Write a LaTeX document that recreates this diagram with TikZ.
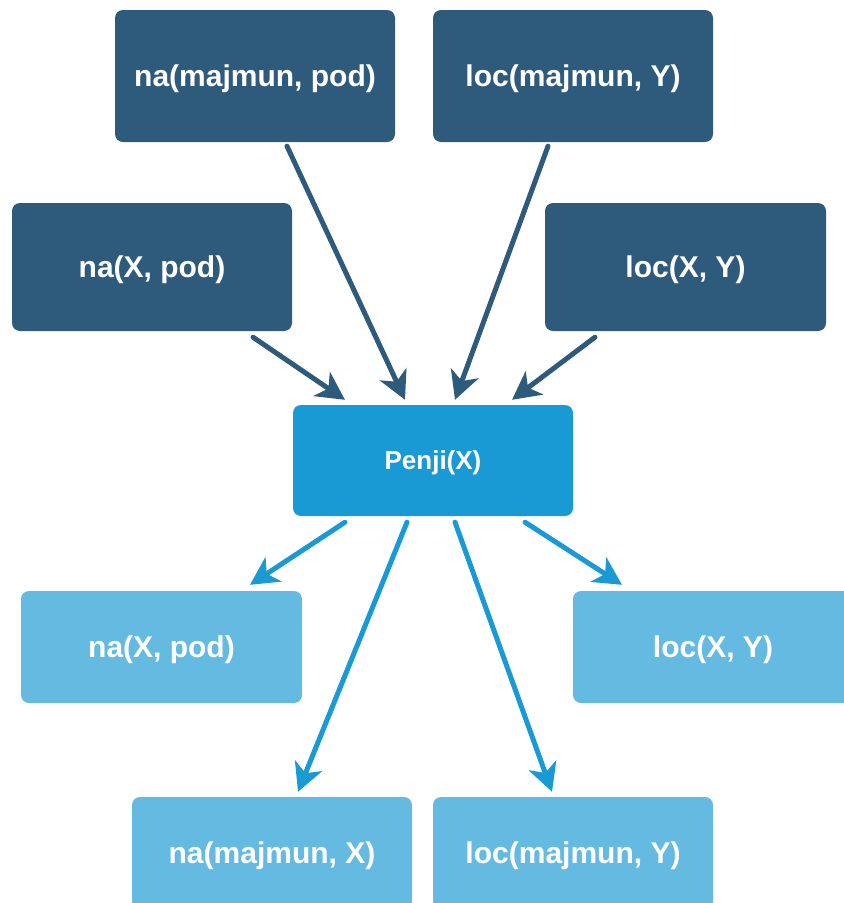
\documentclass[tikz,border=0pt]{standalone}
\usepackage{fontspec}
\setmainfont{Liberation Sans}
\usetikzlibrary{arrows.meta}
\definecolor{tamna}{HTML}{2E5A7C}
\definecolor{srednja}{HTML}{1A9AD4}
\definecolor{svijetla}{HTML}{64BAE1}
\begin{document}
\begin{tikzpicture}[x=1pt,y=-1pt,line cap=round,line join=round,
  kutija/.style={rectangle,rounded corners=8pt,inner sep=0pt,text=white,text depth=0pt,
    font=\bfseries\fontsize{30}{34}\selectfont,minimum width=280pt},
  ulaz/.style={kutija,fill=tamna},
  izlaz/.style={kutija,fill=svijetla,minimum height=112pt},
  glavna/.style={kutija,fill=srednja,minimum height=111pt,
    font=\bfseries\fontsize{26}{30}\selectfont},
  tstrelica/.style={draw=tamna,line width=5pt,-{Stealth[length=28pt,width=29pt,inset=8pt]}},
  sstrelica/.style={draw=srednja,line width=5pt,-{Stealth[length=28pt,width=29pt,inset=8pt]}}]
\useasboundingbox (0,0) rectangle (844,903);
\clip (0,0) rectangle (844,903);
%ulazi
\node[ulaz,minimum height=132pt] (namp) at (255,76) {na(majmun, pod)};
\node[ulaz,minimum height=132pt] (locmy) at (573,76) {loc(majmun, Y)};
\node[ulaz,minimum height=128pt] (naxp) at (152,267) {na(X, pod)};
\node[ulaz,minimum height=128pt,minimum width=281pt] (locxy) at (685.5,267) {loc(X, Y)};
%akcija
\node[glavna] (penji) at (433,460.5) {Penji(X)};
%izlazi
\node[izlaz,minimum width=281pt] (naxp2) at (161.5,647) {na(X, pod)};
\node[izlaz] (locxy2) at (713,647) {loc(X, Y)};
\node[izlaz] (namx) at (272,853) {na(majmun, X)};
\node[izlaz] (locmy2) at (573,853) {loc(majmun, Y)};
%strelice prema akciji
\draw[tstrelica] ([xshift=32pt,yshift=-4pt]namp.south) -- ([xshift=-28pt,yshift=5pt]penji.north);
\draw[tstrelica] ([xshift=-25pt,yshift=-4pt]locmy.south) -- ([xshift=22pt,yshift=5pt]penji.north);
\draw[tstrelica] ([xshift=101pt,yshift=-6pt]naxp.south) -- ([xshift=-88pt,yshift=5pt]penji.north);
\draw[tstrelica] ([xshift=-90.5pt,yshift=-6pt]locxy.south) -- ([xshift=79pt,yshift=5pt]penji.north);
%strelice od akcije
\draw[sstrelica] ([xshift=-88pt,yshift=-6pt]penji.south) -- ([xshift=88.5pt,yshift=6pt]naxp2.north);
\draw[sstrelica] ([xshift=-26pt,yshift=-6pt]penji.south) -- ([xshift=26pt,yshift=5pt]namx.north);
\draw[sstrelica] ([xshift=22pt,yshift=-6pt]penji.south) -- ([xshift=-21pt,yshift=5pt]locmy2.north);
\draw[sstrelica] ([xshift=92pt,yshift=-6pt]penji.south) -- ([xshift=-91pt,yshift=6pt]locxy2.north);
\end{tikzpicture}
\end{document}
